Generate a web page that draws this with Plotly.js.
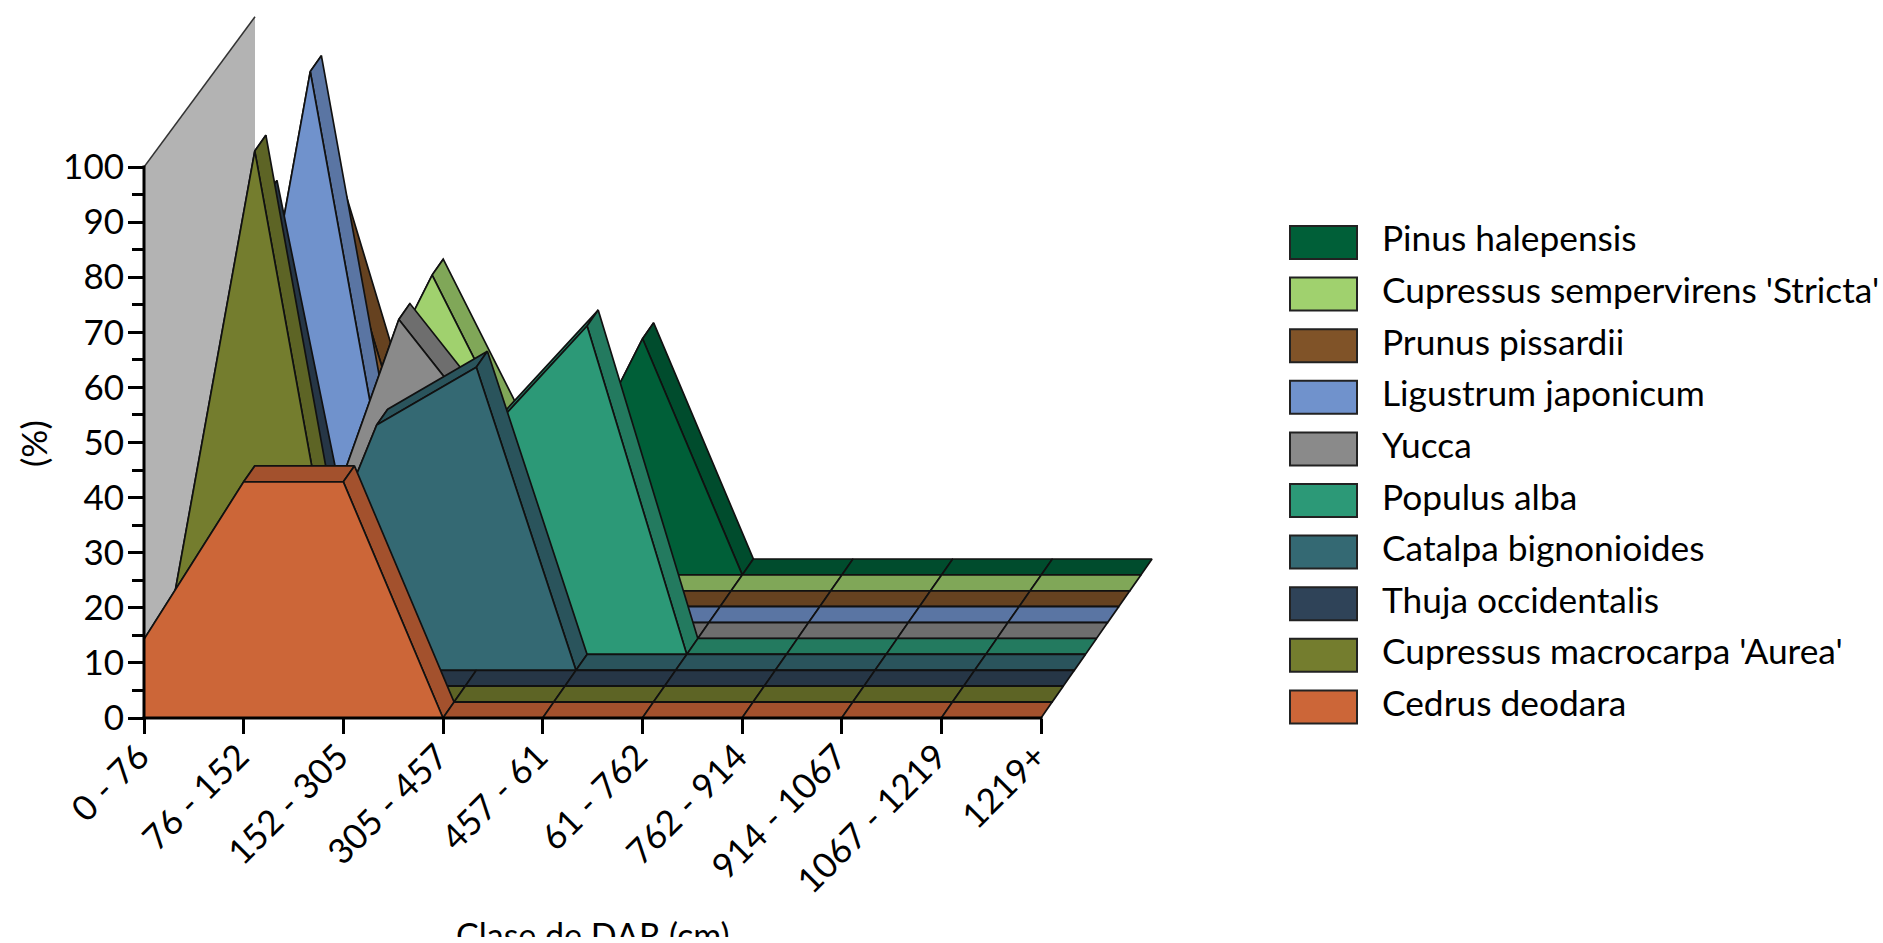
<!DOCTYPE html>
<html>
<head>
<meta charset="utf-8">
<script src="https://cdn.plot.ly/plotly-3.0.1.min.js"></script>
<style>html,body{margin:0;padding:0;background:#fff;overflow:hidden}</style>
</head>
<body>
<div style="width:1883px;height:937px;overflow:hidden"><div id="chart" style="width:1883px;height:943px"></div></div>
<script>
// DBH classes along the horizontal axis
const categories = ['0 - 76','76 - 152','152 - 305','305 - 457','457 - 61','61 - 762','762 - 914','914 - 1067','1067 - 1219','1219+'];
const percentTicks = [0,10,20,30,40,50,60,70,80,90,100];
const percentMinorTicks = [5,15,25,35,45,55,65,75,85,95];

// Share of each species per DBH class (%), front row first
const cedrusDeodara      = [14.29, 42.86, 42.86, 0, 0, 0, 0, 0, 0, 0];
const cupressusAurea     = [0, 100, 0, 0, 0, 0, 0, 0, 0, 0];
const thujaOccidentalis  = [0, 88.9, 0, 0, 0, 0, 0, 0, 0, 0];
const catalpaBignonioides= [0, 0, 44.5, 55, 0, 0, 0, 0, 0, 0];
const populusAlba        = [0, 0, 0, 40, 59.6, 0, 0, 0, 0, 0];
const yucca              = [0, 7.14, 57.9, 35, 0, 0, 0, 0, 0, 0];
const ligustrumJaponicum = [0, 100, 0, 0, 0, 0, 0, 0, 0, 0];
const prunusPissardii    = [0, 80, 20, 0, 0, 0, 0, 0, 0, 0];
const cupressusStricta   = [0, 21.4, 57.3, 21.4, 0, 0, 0, 0, 0, 0];
const pinusHalepensis    = [0, 0, 0, 7.14, 42.86, 0, 0, 0, 0, 0];

const speciesNames = ['Cedrus deodara',"Cupressus macrocarpa 'Aurea'",'Thuja occidentalis','Catalpa bignonioides','Populus alba','Yucca','Ligustrum japonicum','Prunus pissardii',"Cupressus sempervirens 'Stricta'",'Pinus halepensis'];
const speciesValues = [cedrusDeodara,cupressusAurea,thujaOccidentalis,catalpaBignonioides,populusAlba,yucca,ligustrumJaponicum,prunusPissardii,cupressusStricta,pinusHalepensis];
const faceColors = ['#CC6638','#747D2E','#2F4358','#346973','#2C9977','#8A8A8A','#7092CC','#805328','#A0D16E','#005F38'];
const ribbonColors = ['#A3512D','#5D6425','#263646','#2A545C','#237A5F','#6E6E6E','#5A75A3','#664220','#80A758','#004C2D'];

// Plot scale in pixels per axis unit; the axes run past the last tick so the receding rows fit
const W = 1883, H = 943, L = 144, R = 1165, T = 4, B = 718;
const PX_PER_CLASS = 99.67, PX_PER_PERCENT = 5.51;

// Oblique projection: one row of depth shifts a point by this much in axis units
const DEPTH_X = 11.1 / PX_PER_CLASS;
const DEPTH_Y = 15.9 / PX_PER_PERCENT;
const WALL_TOP = [100, 98.4];

const px = (k, depth) => k + depth * DEPTH_X;
const py = (v, depth) => v + depth * DEPTH_Y;
const outline = {color:'#111', width:1.7};
const traces = [];

function polygon(xs, ys, fillcolor, line) {
  traces.push({type:'scatter', mode:'lines', x:xs, y:ys, fill:'toself', fillcolor, line,
    showlegend:false, hoverinfo:'skip'});
}

// Side wall at the first class, spanning all the rows
const rows = speciesValues.length;
polygon([px(0,0),px(0,rows),px(0,rows),px(0,0),px(0,0)],
        [py(0,0),py(0,rows),WALL_TOP[1]+rows*DEPTH_Y,WALL_TOP[0],py(0,0)],
        '#B3B3B3', {width:0});
traces.push({type:'scatter', mode:'lines', x:[px(0,0),px(0,rows)], y:[WALL_TOP[0],WALL_TOP[1]+rows*DEPTH_Y],
  line:{color:'#333',width:1.5}, showlegend:false, hoverinfo:'skip'});

// Rows are painted back to front: the ribbon on top of the area, then its front face
for (let d = rows - 1; d >= 0; d--) {
  const vals = speciesValues[d];
  for (let k = 0; k < vals.length - 1; k++) {
    polygon([px(k,d),px(k+1,d),px(k+1,d+1),px(k,d+1),px(k,d)],
            [py(vals[k],d),py(vals[k+1],d),py(vals[k+1],d+1),py(vals[k],d+1),py(vals[k],d)],
            ribbonColors[d], outline);
  }
  const xs = vals.map((_, k) => px(k,d));
  const ys = vals.map(v => py(v,d));
  polygon(xs.concat([px(vals.length-1,d),px(0,d),px(0,d)]),
          ys.concat([py(0,d),py(0,d),ys[0]]),
          faceColors[d], outline);
}

const paperX = p => (p - L) / (R - L);
const paperY = p => (B - p) / (B - T);
const labelFont = {family:'Lato, sans-serif', size:35, color:'#000'};
const keyFont = {family:'Lato, sans-serif', size:35.3, color:'#000'};
const axisTitleFont = {family:'Lato, sans-serif', size:34, color:'#000'};

// Axis lines stop at the last class and at 100 %, so they are drawn apart from the extended ranges
const lastClassX = paperX(L + (categories.length - 1) * PX_PER_CLASS);
const topPercentY = paperY(B - 100 * PX_PER_PERCENT);
const shapes = [
  {type:'line', xref:'paper', yref:'paper', x0:-1.5/(R-L), x1:lastClassX+1.5/(R-L), y0:0, y1:0, line:{color:'#000', width:3}},
  {type:'line', xref:'paper', yref:'paper', x0:0, x1:0, y0:0, y1:topPercentY+1.5/(B-T), line:{color:'#000', width:3}}
];

const annotations = [
  {xref:'paper', yref:'paper', x:paperX(593), y:paperY(934), yanchor:'middle', xanchor:'center', text:'Clase de DAR (cm)', showarrow:false, font:axisTitleFont},
  {xref:'paper', yref:'paper', x:paperX(33), y:paperY(444), yanchor:'middle', xanchor:'center', text:'(%)', textangle:-90, showarrow:false, font:labelFont}
];

// Key in the right-hand margin, top entry is the back row
speciesNames.slice().reverse().forEach((name, i) => {
  const top = 226 + i * 51.6;
  shapes.push({type:'rect', xref:'paper', yref:'paper', x0:paperX(1290), x1:paperX(1357), y0:paperY(top), y1:paperY(top+33),
    fillcolor:faceColors[rows-1-i], line:{color:'#222', width:2}});
  annotations.push({xref:'paper', yref:'paper', x:paperX(1380), y:paperY(top+12), xanchor:'left', yanchor:'middle',
    text:name, showarrow:false, font:keyFont});
});

Plotly.newPlot('chart', traces, {
  width:W, height:H, showlegend:false, paper_bgcolor:'#fff', plot_bgcolor:'rgba(0,0,0,0)',
  margin:{l:L, r:W-R, t:T, b:H-B, pad:0},
  font:labelFont,
  xaxis:{range:[0,(R-L)/PX_PER_CLASS], tickmode:'array', tickvals:categories.map((_,k)=>k), ticktext:categories, tickangle:-45,
    ticklabelshift:-5, ticklabelstandoff:-12,
    showgrid:false, zeroline:false, showline:false, ticks:'outside', ticklen:15, tickwidth:3, tickcolor:'#000',
    tickfont:labelFont},
  yaxis:{range:[0,(B-T)/PX_PER_PERCENT], tickmode:'array', tickvals:percentTicks, ticklabelstandoff:-3,
    minor:{tickmode:'array', tickvals:percentMinorTicks, ticks:'outside', ticklen:11, tickwidth:3, tickcolor:'#000', showgrid:false},
    showgrid:false, zeroline:false, showline:false, ticks:'outside', ticklen:15, tickwidth:3, tickcolor:'#000',
    tickfont:labelFont},
  shapes, annotations
}, {displayModeBar:false, staticPlot:true});
</script>
</body>
</html>
